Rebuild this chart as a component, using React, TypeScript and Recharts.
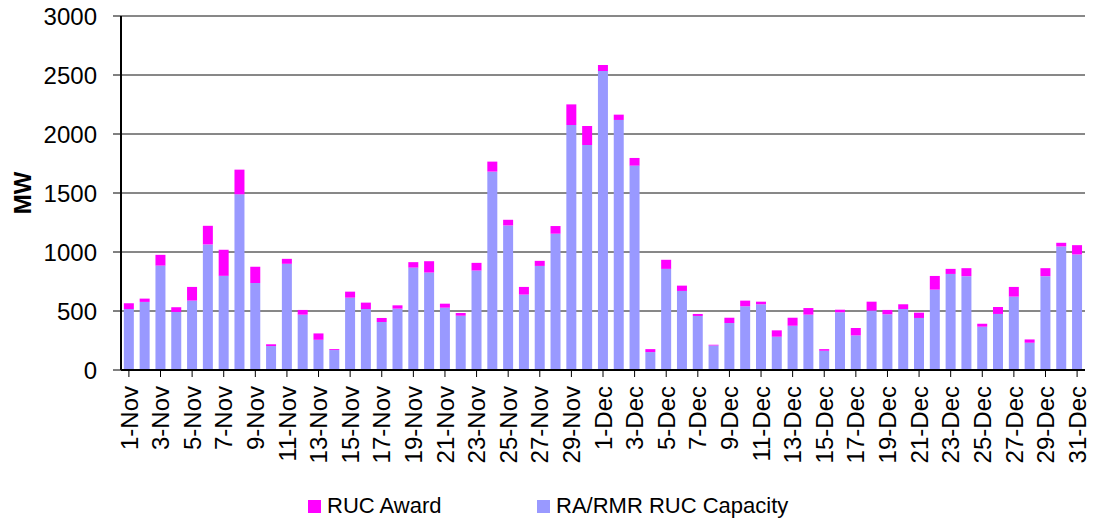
import { BarChart, Bar, XAxis, YAxis, CartesianGrid, Legend } from "recharts";

const days = [
  "1-Nov", "2-Nov", "3-Nov", "4-Nov", "5-Nov", "6-Nov", "7-Nov", "8-Nov", "9-Nov", "10-Nov",
  "11-Nov", "12-Nov", "13-Nov", "14-Nov", "15-Nov", "16-Nov", "17-Nov", "18-Nov", "19-Nov", "20-Nov",
  "21-Nov", "22-Nov", "23-Nov", "24-Nov", "25-Nov", "26-Nov", "27-Nov", "28-Nov", "29-Nov", "30-Nov",
  "1-Dec", "2-Dec", "3-Dec", "4-Dec", "5-Dec", "6-Dec", "7-Dec", "8-Dec", "9-Dec", "10-Dec",
  "11-Dec", "12-Dec", "13-Dec", "14-Dec", "15-Dec", "16-Dec", "17-Dec", "18-Dec", "19-Dec", "20-Dec",
  "21-Dec", "22-Dec", "23-Dec", "24-Dec", "25-Dec", "26-Dec", "27-Dec", "28-Dec", "29-Dec", "30-Dec",
  "31-Dec",
];

// RA/RMR RUC Capacity (MW)
const raCapacity = [
  517, 577, 885, 492, 588, 1064, 798, 1489, 738, 203,
  900, 469, 256, 169, 613, 517, 407, 520, 868, 826,
  528, 460, 843, 1681, 1225, 639, 882, 1155, 2076, 1907,
  2534, 2119, 1732, 152, 857, 670, 458, 208, 398, 540,
  557, 282, 375, 469, 163, 489, 293, 503, 472, 517,
  441, 681, 814, 795, 367, 475, 622, 231, 795, 1047,
  979,
];

// RUC Award (MW), stacked on top
const rucAward = [
  48, 28, 91, 40, 116, 158, 221, 209, 136, 15,
  42, 40, 54, 8, 51, 54, 34, 28, 46, 96,
  34, 23, 65, 85, 48, 65, 43, 65, 175, 161,
  51, 45, 65, 25, 77, 45, 17, 6, 45, 48,
  22, 54, 68, 56, 14, 22, 63, 76, 37, 40,
  45, 116, 43, 68, 25, 59, 82, 28, 68, 31,
  79,
];

const yTicks = [0, 500, 1000, 1500, 2000, 2500, 3000];

const BLUE = "#9999FF";
const PINK = "#FF00FF";
const FONT = "'Liberation Sans', Arial, sans-serif";

const data = days.map((day, i) => ({
  day,
  ra: raCapacity[i],
  award: rucAward[i],
}));

function DayTick(props: any) {
  const { x, y, payload } = props;
  return (
    <text
      x={x}
      y={y}
      transform={`rotate(-90, ${x}, ${y})`}
      textAnchor="end"
      dy="0.36em"
      fill="#000"
      fontSize={24}
      fontFamily={FONT}
    >
      {payload.value}
    </text>
  );
}

function AxisTitle(props: any) {
  const { viewBox } = props;
  const cy = viewBox.y + viewBox.height / 2;
  const cx = 22;
  return (
    <text
      x={cx}
      y={cy}
      transform={`rotate(-90, ${cx}, ${cy})`}
      textAnchor="middle"
      dy="0.36em"
      fill="#000"
      fontSize={24}
      fontWeight="bold"
      fontFamily={FONT}
    >
      MW
    </text>
  );
}

function ChartLegend() {
  const item = (left: number, color: string, label: string) => (
    <div
      style={{
        position: "absolute",
        left,
        top: 13,
        display: "flex",
        alignItems: "center",
        fontFamily: FONT,
        fontSize: 22,
        color: "#000",
        whiteSpace: "nowrap",
      }}
    >
      <span style={{ width: 13, height: 13, background: color, marginRight: 6 }} />
      {label}
    </div>
  );
  return (
    <div style={{ position: "relative", width: 1102, height: 39 }}>
      {item(308, PINK, "RUC Award")}
      {item(537, BLUE, "RA/RMR RUC Capacity")}
    </div>
  );
}

export default function App() {
  return (
    <div style={{ position: "absolute", left: 0, top: 0, background: "#fff" }}>
      <BarChart
        width={1102}
        height={519}
        data={data}
        margin={{ top: 16, right: 17, bottom: 0, left: 0 }}
        barCategoryGap="18%"
      >
        <CartesianGrid vertical={false} stroke="#111" strokeWidth={1} />
        <XAxis
          dataKey="day"
          interval={1}
          height={110}
          tick={<DayTick />}
          tickSize={7}
          tickMargin={9}
          axisLine={{ stroke: "#000", strokeWidth: 2 }}
          tickLine={{ stroke: "#000" }}
        />
        <YAxis
          width={121}
          domain={[0, 3000]}
          ticks={yTicks}
          interval={0}
          tickSize={8}
          tickMargin={16}
          tick={{ fill: "#000", fontSize: 24, fontFamily: FONT }}
          axisLine={{ stroke: "#000", strokeWidth: 2 }}
          tickLine={{ stroke: "#000" }}
          label={<AxisTitle />}
        />
        <Legend
          verticalAlign="bottom"
          height={39}
          wrapperStyle={{ left: 0, width: 1102 }}
          content={<ChartLegend />}
        />
        <Bar dataKey="ra" name="RA/RMR RUC Capacity" stackId="a" fill={BLUE} isAnimationActive={false} />
        <Bar dataKey="award" name="RUC Award" stackId="a" fill={PINK} isAnimationActive={false} />
      </BarChart>
    </div>
  );
}
